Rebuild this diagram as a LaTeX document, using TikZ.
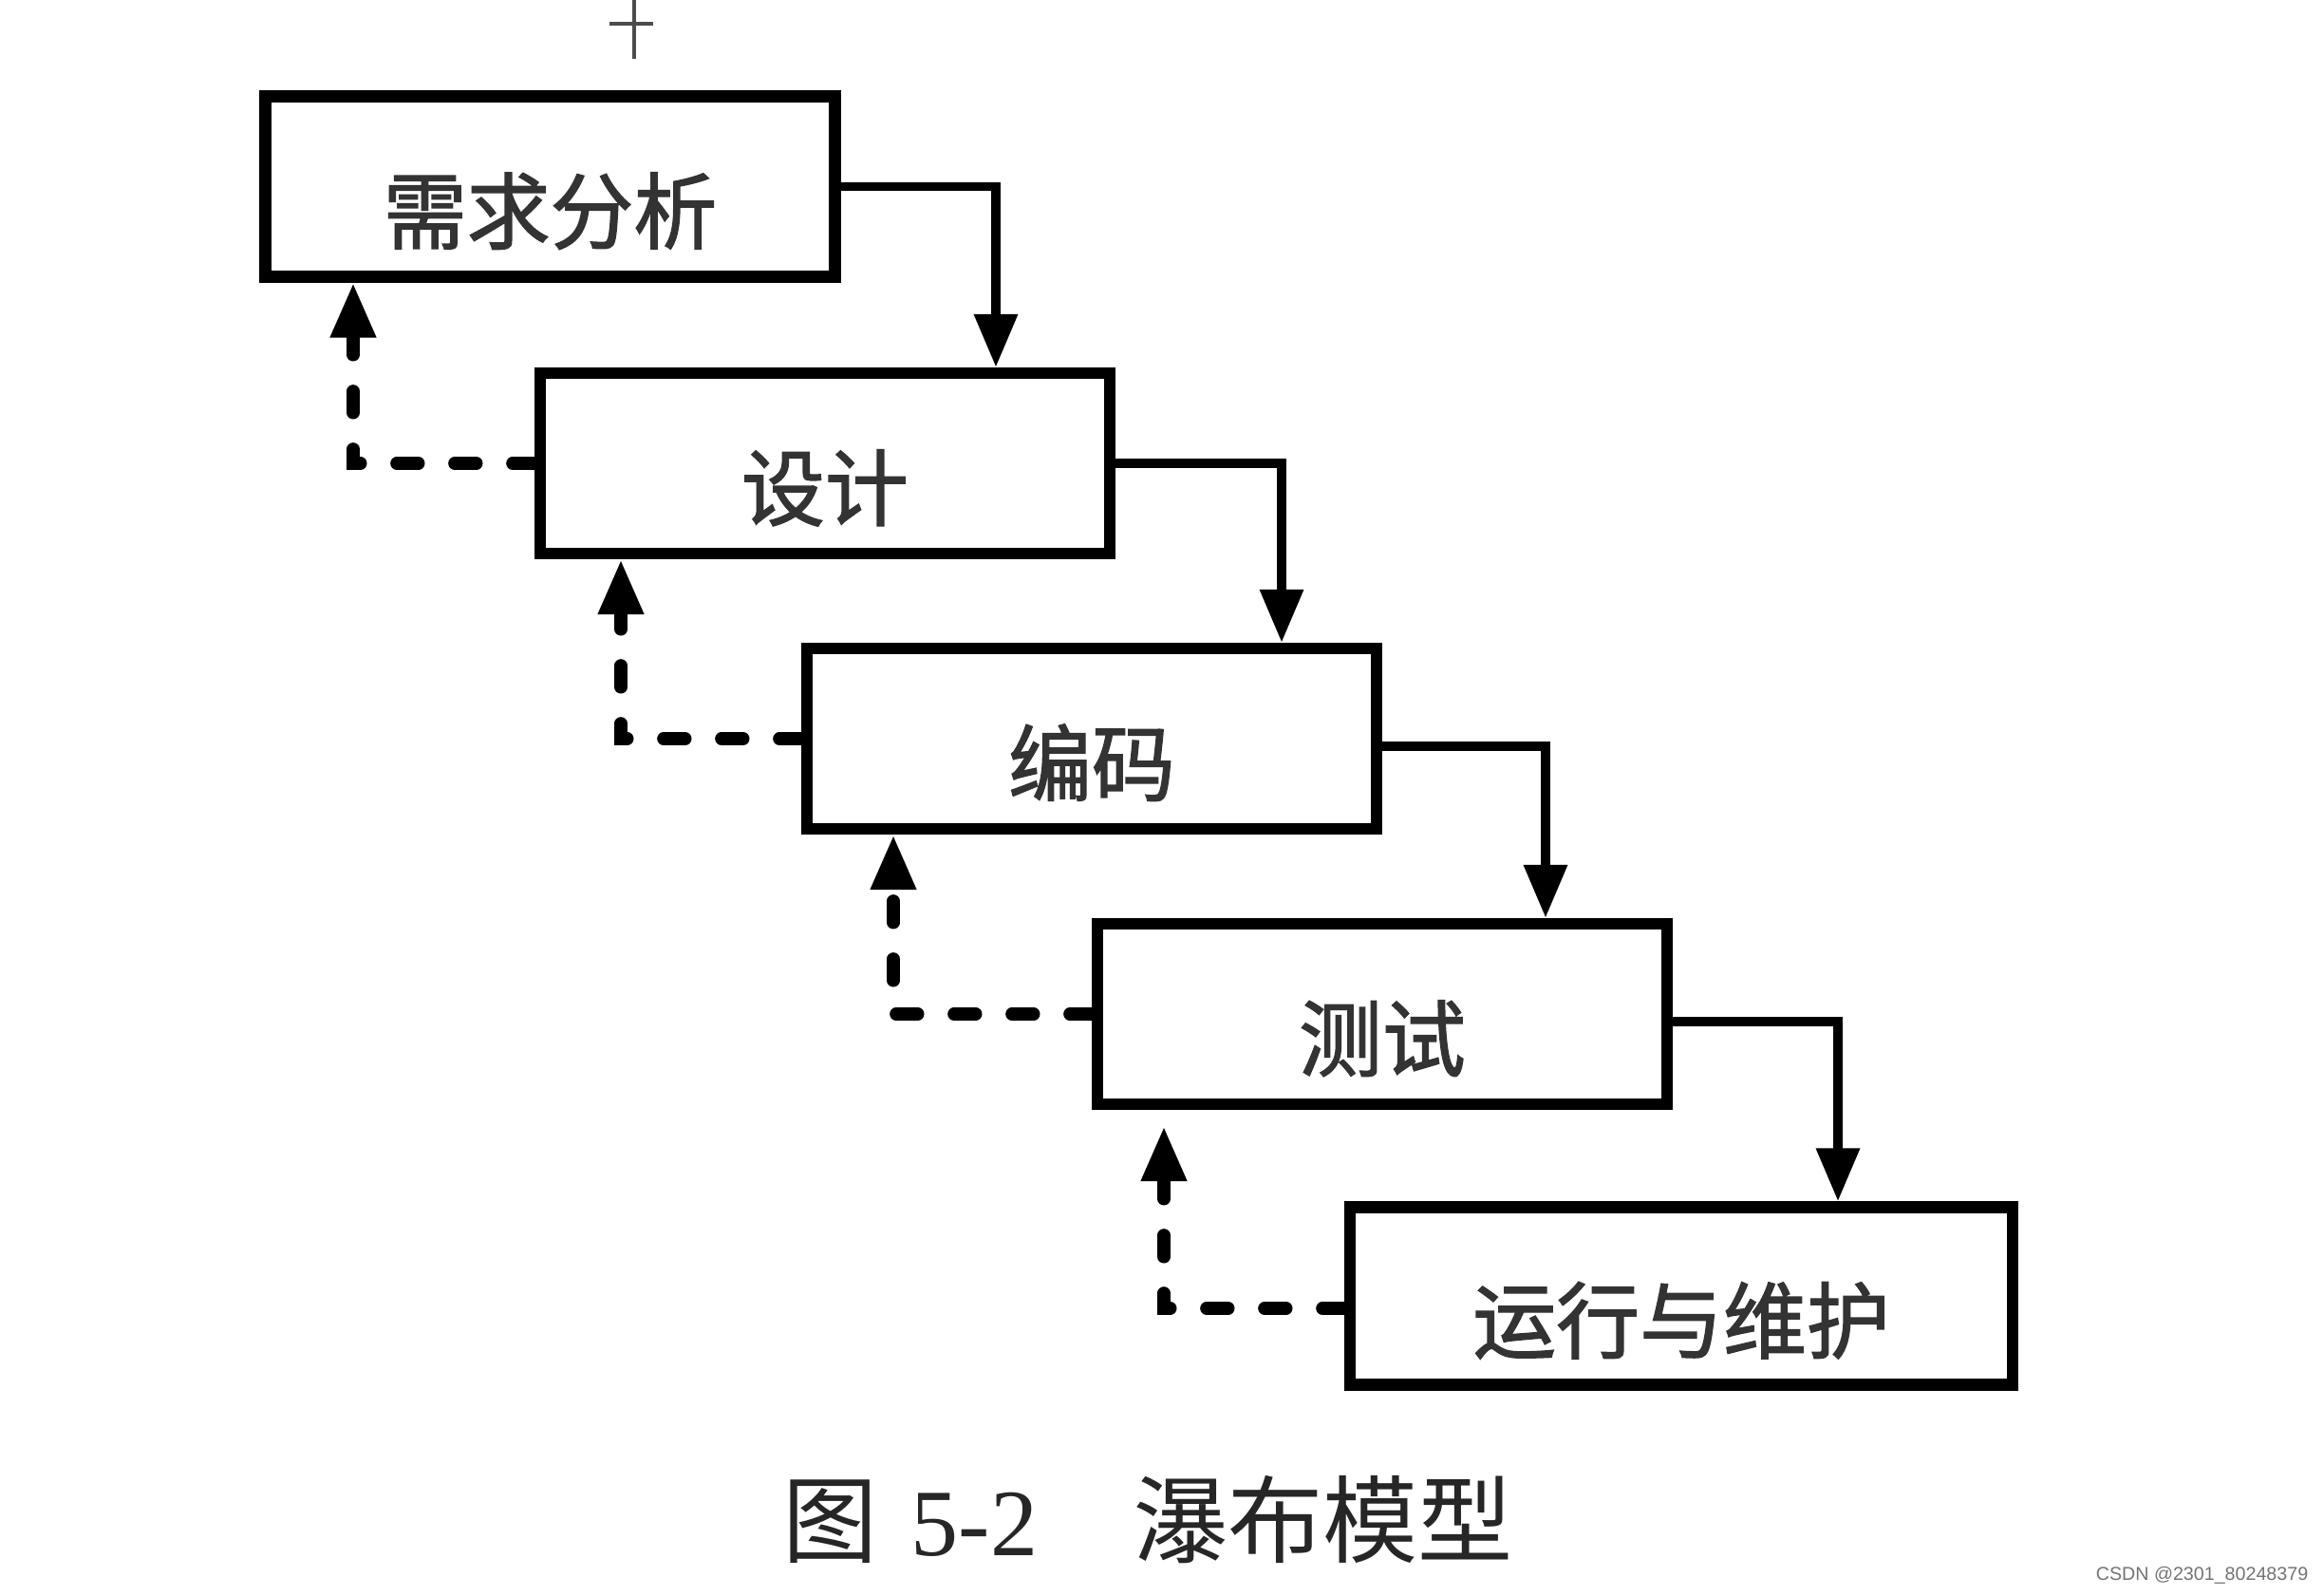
\documentclass[tikz,border=0pt]{standalone}
\usepackage{fontspec}
\usetikzlibrary{arrows.meta}
\newfontfamily\cjk[FakeBold=1.6]{Noto Sans CJK SC}
\newfontfamily\cjkcap{Noto Sans CJK SC}
\newfontfamily\latinserif{Liberation Serif}
\newfontfamily\latinsans{Liberation Sans}
\begin{document}
\begin{tikzpicture}[
                    stage/.style={draw, line width=3.5pt, minimum width=6cm, minimum height=1.9cm,
                                  inner sep=0pt, text=black!80, font=\cjk\fontsize{25}{25}\selectfont,
                                  text height=1.18cm, text depth=0pt},
                    flow/.style={line width=2.8pt, -{Triangle[length=5.6mm,width=4.4mm]}},
                    back/.style={line width=3.8pt, line cap=round, dash pattern=on 2.3mm off 3.8mm,
                                 -{Triangle[length=5.8mm,width=4.5mm]}}
                ]
                \useasboundingbox (0,0) rectangle (24.48,-16.8);
                % stages
                \node[stage] (req)    at (5.795,-1.965) {需求分析};
                \node[stage] (design) at (8.69,-4.88)   {设计};
                \node[stage] (code)   at (11.50,-7.78)  {编码};
                \node[stage] (test)   at (14.56,-10.68) {测试};
                \node[stage, minimum width=6.98cm, minimum height=1.87cm] (maint) at (17.71,-13.65) {运行与维护};
                % forward flow
                \draw[flow] (req.east) -| ([xshift=1.80cm]design.north);
                \draw[flow] (design.east) -| ([xshift=2.00cm]code.north);
                \draw[flow] ([yshift=-0.8mm]code.east) -| ([xshift=1.72cm]test.north);
                \draw[flow] ([yshift=-0.8mm]test.east) -| ([xshift=1.65cm]maint.north);
                % feedback
                \draw[back] (design.west) -| ([xshift=-2.075cm]req.south);
                \draw[back] (code.west) -| ([xshift=-2.15cm]design.south);
                \draw[back] (test.west) -| ([xshift=-2.09cm]code.south);
                \draw[back, shorten >=1.7mm] ([yshift=-1.3mm]maint.west) -| ([xshift=-2.30cm]test.south);
                % scan mark
                \draw[black!70, line width=0.9pt] (6.68,0) -- (6.68,-0.62) (6.42,-0.25) -- (6.88,-0.25);
                % caption
                \node[anchor=base west, inner sep=0pt, text=black!85, font=\cjkcap\fontsize{28.5}{28.5}\selectfont] (caption)
                    at (8.24,-16.38) {图\hspace{0.35cm}{\latinserif 5-2}\hspace{1.0cm}瀑布模型};
                \node[anchor=base east, inner sep=0pt, text=black!55, font=\latinsans\fontsize{5.6}{5.6}\selectfont] (wmark)
                    at (24.32,-16.64) {CSDN @2301\_80248379};
                \end{tikzpicture}
\end{document}
